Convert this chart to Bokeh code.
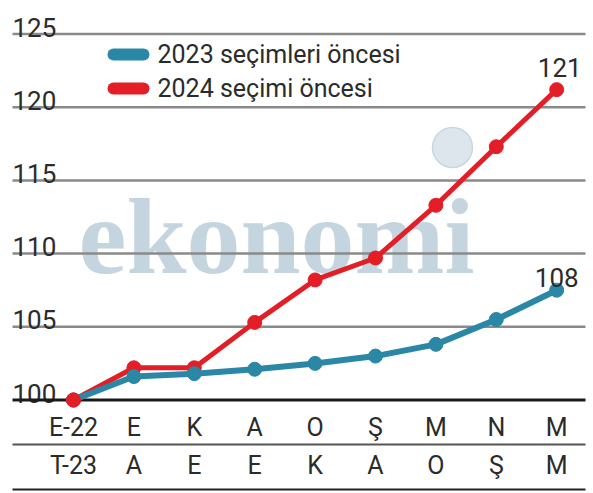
from bokeh.plotting import figure
from bokeh.models import Range1d
from bokeh.core.properties import value
from bokeh.embed import file_html
from bokeh.resources import INLINE

# ---- data ----
months_top = ["E-22", "E", "K", "A", "O", "Ş", "M", "N", "M"]
months_bottom = ["T-23", "A", "E", "E", "K", "A", "O", "Ş", "M"]
series_2023 = [100, 101.6, 101.8, 102.1, 102.5, 103.0, 103.8, 105.5, 107.5]
series_2024 = [100, 102.2, 102.2, 105.3, 108.2, 109.7, 113.3, 117.3, 121.2]
name_2023 = "2023 seçimleri öncesi"
name_2024 = "2024 seçimi öncesi"
label_2023 = "108"
label_2024 = "121"
y_ticks = [100, 105, 110, 115, 120, 125]

BLUE = "#2b87a6"
RED = "#e31e27"
GRID = "#8a8a8a"
TEXT = "#2b2b2b"
FONT = "Roboto"

W, H = 593, 491
# layout: screen x = 73 + 60.4*i ; screen y = 399.5 - 14.64*(v-100)
X0, DX = 73.0, 60.4
Y0, DY = 399.5, 14.64
x_start = -X0 / DX
x_end = (W - X0) / DX
y_top = 100 + Y0 / DY
y_bot = 100 - (H - Y0) / DY

def sx(px):
    return (px - X0) / DX

def sy(py):
    return 100 - (py - Y0) / DY

xs = list(range(len(months_top)))

p = figure(width=W, height=H, output_backend="svg", toolbar_location=None,
           x_range=Range1d(x_start, x_end), y_range=Range1d(y_bot, y_top),
           min_border=0, outline_line_color=None)
p.axis.visible = False
p.grid.visible = False
p.background_fill_color = "white"

# watermark
p.text(x=[sx(78)], y=[sy(236)], text=["ekonomi"], text_font=value("Liberation Serif"),
       text_font_style="bold", text_font_size="108px", text_color="#c4d5df",
       text_baseline="alphabetic", text_align="left")
p.scatter(x=[sx(452)], y=[sy(147)], size=40, fill_color="#dce6ec", line_color="#c9d8e0",
          line_width=1.5)

# gridlines and tick labels
grid_vals = [t for t in y_ticks if t != 100]
p.segment(x0=[sx(12)] * len(grid_vals), x1=[sx(585)] * len(grid_vals), y0=grid_vals, y1=grid_vals,
          line_color=GRID, line_width=2.5)
p.text(x=[sx(12)] * len(y_ticks), y=[t + 7 / DY for t in y_ticks], text=[str(t) for t in y_ticks],
       text_font=value(FONT), text_font_size="26px", text_color=TEXT,
       text_baseline="alphabetic", text_align="left")

# baseline and table lines
p.segment(x0=[sx(12)], x1=[sx(585)], y0=[100], y1=[100], line_color="#1a1a1a", line_width=3)
p.segment(x0=[sx(12)], x1=[sx(585)], y0=[sy(444)], y1=[sy(444)], line_color="#555555", line_width=2)
p.segment(x0=[sx(12)], x1=[sx(585)], y0=[sy(489)], y1=[sy(489)], line_color="#222222", line_width=2)

p.text(x=xs, y=[sy(427)] * len(xs), text=months_top, text_font=value(FONT), text_font_size="25px",
       text_color=TEXT, text_baseline="middle", text_align="center")
p.text(x=xs, y=[sy(465)] * len(xs), text=months_bottom, text_font=value(FONT), text_font_size="25px",
       text_color=TEXT, text_baseline="middle", text_align="center")

# series
p.line(xs, series_2024, line_color=RED, line_width=5)
p.scatter(xs, series_2024, size=14, fill_color=RED, line_color=RED)
p.line(xs, series_2023, line_color=BLUE, line_width=6)
p.scatter(xs, series_2023, size=14, fill_color=BLUE, line_color=BLUE)
p.scatter(xs[:1], series_2024[:1], size=14, fill_color=RED, line_color=RED)

# end labels
p.text(x=[xs[-1] + 3 / DX], y=[series_2024[-1] + 22 / DY], text=[label_2024], text_font=value(FONT),
       text_font_size="26px", text_color=TEXT, text_baseline="alphabetic", text_align="center")
p.text(x=[xs[-1]], y=[series_2023[-1] + 13 / DY], text=[label_2023], text_font=value(FONT),
       text_font_size="26px", text_color=TEXT, text_baseline="alphabetic", text_align="center")

# legend
p.segment(x0=[sx(113), sx(113)], x1=[sx(143), sx(143)], y0=[sy(54), sy(88)], y1=[sy(54), sy(88)],
          line_color=[BLUE, RED], line_width=12, line_cap="round")
p.text(x=[sx(157), sx(157)], y=[sy(54), sy(88)], text=[name_2023, name_2024], text_font=value(FONT),
       text_font_size="25px", text_color=TEXT, text_baseline="middle", text_align="left")

open("out.html", "w").write(file_html(p, INLINE))
